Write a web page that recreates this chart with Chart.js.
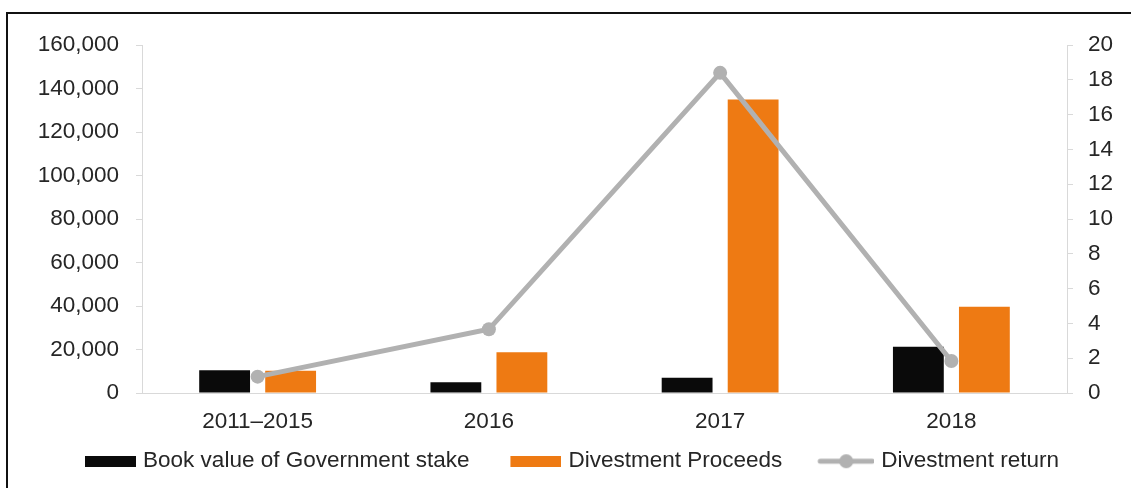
<!DOCTYPE html>
<html>
<head>
<meta charset="utf-8">
<script src="https://cdn.jsdelivr.net/npm/chart.js@4/dist/chart.umd.min.js"></script>
<style>
  html, body { margin: 0; padding: 0; background: #ffffff; }
  #wrap { position: relative; width: 1131px; height: 488px; }
</style>
</head>
<body>
<div id="wrap"><canvas id="c" width="1131" height="488"></canvas></div>
<script>
const categories = ['2011\u20132015', '2016', '2017', '2018'];
const bookValue = [10500, 4900, 7000, 21300];
const proceeds = [10200, 18700, 135000, 39700];
const divestReturn = [0.94, 3.66, 18.4, 1.84];
const leftTicks = [0, 20000, 40000, 60000, 80000, 100000, 120000, 140000, 160000];
const rightTicks = [0, 2, 4, 6, 8, 10, 12, 14, 16, 18, 20];

const BLACK = '#0a0a0a';
const ORANGE = '#ee7a13';
const GREY = '#b1b1b1';
const AXIS = '#d9d9d9';
const TEXT = '#262626';
const FONT = 'Liberation Sans, Arial, sans-serif';

// legend symbols: transparent left margin, visible symbol on the right
function boxImg(color) {
  const c = document.createElement('canvas');
  c.width = 84; c.height = 11;
  const g = c.getContext('2d');
  g.fillStyle = color; g.fillRect(33, 0, 51, 11);
  return c;
}
function lineImg() {
  const c = document.createElement('canvas');
  c.width = 84; c.height = 16;
  const g = c.getContext('2d');
  g.strokeStyle = GREY; g.lineWidth = 5; g.lineCap = 'round';
  g.beginPath(); g.moveTo(30, 8); g.lineTo(82, 8); g.stroke();
  g.fillStyle = GREY; g.beginPath(); g.arc(56, 8, 7, 0, Math.PI * 2); g.fill();
  return c;
}
const legendImgs = [boxImg(BLACK), boxImg(ORANGE), lineImg()];

const frame = {
  id: 'frame',
  afterDraw(chart) {
    const ctx = chart.ctx;
    ctx.save();
    ctx.fillStyle = '#111111';
    ctx.fillRect(7, 12, chart.width - 7, 2);
    ctx.fillRect(6, 12, 2, chart.height - 12);
    ctx.restore();
  }
};

new Chart(document.getElementById('c'), {
  type: 'bar',
  data: {
    labels: categories,
    datasets: [
      { label: 'Book value of Government stake', data: bookValue, backgroundColor: BLACK, yAxisID: 'y', order: 1,
        categoryPercentage: 0.571, barPercentage: 0.77 },
      { label: 'Divestment Proceeds', data: proceeds, backgroundColor: ORANGE, yAxisID: 'y', order: 1,
        categoryPercentage: 0.571, barPercentage: 0.77 },
      { type: 'line', label: 'Divestment return', data: divestReturn, yAxisID: 'y1', order: 0,
        borderColor: GREY, backgroundColor: GREY, borderWidth: 5, pointRadius: 7,
        pointBackgroundColor: GREY, pointBorderWidth: 0, tension: 0, fill: false }
    ]
  },
  options: {
    responsive: false,
    animation: false,
    devicePixelRatio: 1,
    layout: { padding: { top: 45, bottom: 5.5, left: 0, right: 16 } },
    plugins: {
      tooltip: { enabled: false },
      legend: {
        position: 'bottom',
        labels: {
          usePointStyle: true,
          pointStyleWidth: 75.75,
          boxHeight: 11,
          padding: 12,
          color: TEXT,
          font: { family: FONT, size: 22.5 },
          sort: (a, b) => a.datasetIndex - b.datasetIndex,
          generateLabels(chart) {
            const items = Chart.defaults.plugins.legend.labels.generateLabels(chart);
            items.forEach(it => { it.pointStyle = legendImgs[it.datasetIndex]; it.lineWidth = 0; });
            return items;
          }
        }
      }
    },
    scales: {
      x: {
        afterFit(s) { s.height = 45; },
        grid: { display: true, drawOnChartArea: false, drawTicks: false },
        border: { display: true, color: AXIS, width: 1 },
        ticks: { color: TEXT, font: { family: FONT, size: 22.5 }, padding: 15, maxRotation: 0 }
      },
      y: {
        position: 'left',
        min: 0, max: 160000,
        afterFit(s) { s.width = 142; },
        afterBuildTicks(s) { s.ticks = leftTicks.map(v => ({ value: v })); },
        grid: { drawOnChartArea: false, drawTicks: true, tickLength: 6, color: AXIS },
        border: { display: true, color: AXIS, width: 1 },
        ticks: { color: TEXT, font: { family: FONT, size: 22.5 }, padding: 17,
          callback: v => Number(v).toLocaleString('en-US') }
      },
      y1: {
        position: 'right',
        min: 0, max: 20,
        afterFit(s) { s.width = 48; },
        afterBuildTicks(s) { s.ticks = rightTicks.map(v => ({ value: v })); },
        grid: { drawOnChartArea: false, drawTicks: true, tickLength: 6, color: AXIS },
        border: { display: true, color: AXIS, width: 1 },
        ticks: { color: TEXT, font: { family: FONT, size: 22.5 }, padding: 15 }
      }
    }
  },
  plugins: [frame]
});
</script>
</body>
</html>
